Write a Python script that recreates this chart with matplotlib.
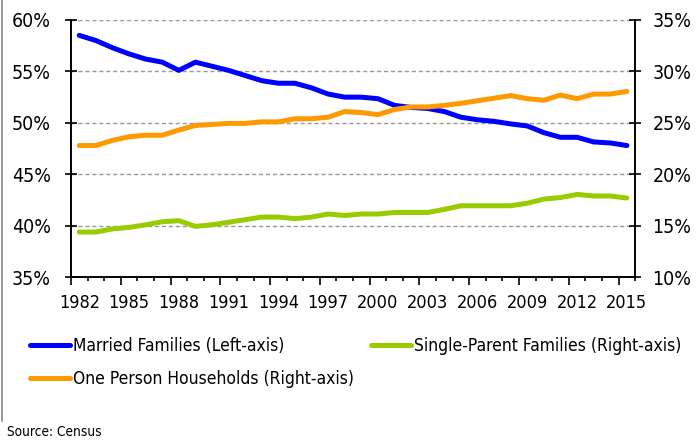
import matplotlib
matplotlib.use("Agg")
import matplotlib.pyplot as plt
from matplotlib.lines import Line2D
from matplotlib.ticker import FuncFormatter
import numpy as np

years = list(range(1982, 2016))
married = [58.5, 58.0, 57.3, 56.7, 56.2, 55.9, 55.1, 55.9, 55.5, 55.1, 54.6, 54.1, 53.85, 53.85,
           53.4, 52.8, 52.5, 52.5, 52.35, 51.7, 51.5, 51.4, 51.1, 50.55, 50.3, 50.15, 49.9, 49.7,
           49.05, 48.6, 48.6, 48.15, 48.05, 47.8]
one_person = [22.8, 22.8, 23.3, 23.65, 23.8, 23.8, 24.3, 24.75, 24.85, 24.95, 24.95, 25.1, 25.1, 25.4,
              25.4, 25.55, 26.1, 26.0, 25.8, 26.3, 26.55, 26.55, 26.7, 26.9, 27.15, 27.4, 27.65, 27.35,
              27.2, 27.7, 27.35, 27.8, 27.8, 28.05]
single_parent = [14.4, 14.4, 14.7, 14.85, 15.1, 15.4, 15.5, 14.95, 15.1, 15.35, 15.6, 15.85, 15.85, 15.7,
                 15.85, 16.15, 16.0, 16.15, 16.15, 16.3, 16.3, 16.3, 16.6, 16.95, 16.95, 16.95, 16.95, 17.2,
                 17.6, 17.75, 18.05, 17.9, 17.9, 17.7]
left_ticks = [35, 40, 45, 50, 55, 60]
right_ticks = [10, 15, 20, 25, 30, 35]
label_years = list(range(1982, 2016, 3))

labels = {
    "married": "Married Families (Left-axis)",
    "one": "One Person Households (Right-axis)",
    "single": "Single-Parent Families (Right-axis)",
}

plt.rcParams['font.family'] = ['Liberation Sans Narrow', 'DejaVu Sans']
plt.rcParams['font.stretch'] = 'condensed'

BLUE = "#0000FF"
ORANGE = "#FF9900"
GREEN = "#99CC00"

fig = plt.figure(figsize=(7.0, 4.43), dpi=100)
ax = fig.add_axes([0.1014, 0.374, 0.806, 0.581])
ax2 = ax.twinx()

x = np.arange(len(years))
l1, = ax.plot(x, married, color=BLUE, lw=3.6, solid_capstyle='round', zorder=3)
l2, = ax2.plot(x, one_person, color=ORANGE, lw=3.6, solid_capstyle='round', zorder=3)
l3, = ax2.plot(x, single_parent, color=GREEN, lw=3.6, solid_capstyle='round', zorder=3)

ax.set_xlim(-0.5, len(years) - 0.5)
ax.set_ylim(left_ticks[0], left_ticks[-1])
ax2.set_ylim(right_ticks[0], right_ticks[-1])

pct = FuncFormatter(lambda v, p: f"{v:.0f}%")
ax.set_yticks(left_ticks)
ax.yaxis.set_major_formatter(pct)
ax2.set_yticks(right_ticks)
ax2.yaxis.set_major_formatter(pct)

for a in (ax, ax2):
    a.spines['top'].set_visible(False)
    for s in ('left', 'right', 'bottom'):
        a.spines[s].set_color('black')
        a.spines[s].set_linewidth(1.2)
ax.tick_params(axis='y', direction='inout', length=9, width=1.2, labelsize=14, pad=10, colors='black')
ax2.tick_params(axis='y', direction='inout', length=9, width=1.2, labelsize=14, pad=8, colors='black')

for yv in left_ticks[1:]:
    ax.axhline(yv, color='#999999', lw=1.0, ls=(0, (3, 2)), zorder=1)

# x ticks: boundaries
bounds = np.arange(len(years) + 1) - 0.5
ax.set_xticks(bounds[::3])
ax.set_xticks(bounds, minor=True)
ax.tick_params(axis='x', which='major', direction='out', length=6, width=1.2, labelbottom=False)
ax.tick_params(axis='x', which='minor', direction='out', length=3, width=1.2)

sec = ax.secondary_xaxis('bottom')
sec.set_xticks([years.index(y) for y in label_years])
sec.set_xticklabels([str(y) for y in label_years])
sec.tick_params(length=0, labelsize=13, pad=12)
sec.spines['bottom'].set_visible(False)

handles = [l1, l2, l3]
names = [labels["married"], labels["one"], labels["single"]]
leg = fig.legend(handles, names, ncol=2, loc='upper left', bbox_to_anchor=(0.043, 0.24),
                 frameon=False, fontsize=12.5, handlelength=2.3, handletextpad=0.15,
                 columnspacing=1.0, labelspacing=0.9, borderpad=0, borderaxespad=0)

fig.text(0.01, 0.008, "Source: Census", fontsize=9.8, ha='left', va='bottom')
fig.add_artist(Line2D([0.003, 0.003], [0.05, 1.0], transform=fig.transFigure, color='#888888', lw=1.2))

fig.savefig("out.png", dpi=100)
